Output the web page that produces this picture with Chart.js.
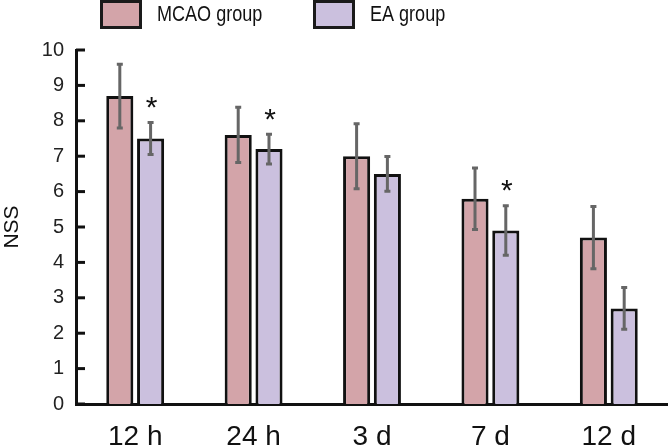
<!DOCTYPE html>
<html>
<head>
<meta charset="utf-8">
<script src="https://cdn.jsdelivr.net/npm/chart.js@4.4.1/dist/chart.umd.min.js"></script>
<style>
  html, body { margin: 0; padding: 0; background: #fff; }
  #wrap { width: 668px; height: 445px; position: relative; }
</style>
</head>
<body>
<div id="wrap"><canvas id="chart"></canvas></div>
<script>
// values
const categories = ["12 h", "24 h", "3 d", "7 d", "12 d"];
const mcaoMean = [8.7, 7.6, 7.0, 5.8, 4.7];
const mcaoSd = [0.9, 0.78, 0.92, 0.87, 0.88];
const eaMean = [7.5, 7.2, 6.5, 4.9, 2.7];
const eaSd = [0.45, 0.42, 0.49, 0.7, 0.59];
const eaSignificant = [true, true, false, true, false];
const yTicks = [0, 1, 2, 3, 4, 5, 6, 7, 8, 9, 10];

const FONT = "'Liberation Sans', Arial, sans-serif";

// error bars + asterisks
const errorBars = {
  id: "errorBars",
  afterDatasetsDraw(chart) {
    const { ctx, scales: { y } } = chart;
    const sds = [mcaoSd, eaSd];
    ctx.save();
    chart.data.datasets.forEach((ds, di) => {
      const meta = chart.getDatasetMeta(di);
      meta.data.forEach((bar, i) => {
        const top = y.getPixelForValue(ds.data[i] + sds[di][i]);
        const bot = y.getPixelForValue(ds.data[i] - sds[di][i]);
        ctx.strokeStyle = "#666";
        ctx.lineWidth = 3;
        ctx.beginPath();
        ctx.moveTo(bar.x, top);
        ctx.lineTo(bar.x, bot);
        ctx.moveTo(bar.x - 3, top);
        ctx.lineTo(bar.x + 3, top);
        ctx.moveTo(bar.x - 3, bot);
        ctx.lineTo(bar.x + 3, bot);
        ctx.stroke();
        if (di === 1 && eaSignificant[i]) {
          ctx.fillStyle = "#111";
          ctx.font = "30px " + FONT;
          ctx.textAlign = "center";
          ctx.textBaseline = "middle";
          ctx.fillText("*", bar.x + 1, top - 14);
        }
      });
    });
    ctx.restore();
  }
};

// ticks pointing into the plot, and the legend on top
const decorations = {
  id: "decorations",
  afterDraw(chart) {
    const { ctx, scales: { y } } = chart;
    ctx.save();
    ctx.strokeStyle = "#111";
    ctx.lineWidth = 3;
    yTicks.forEach(v => {
      const py = y.getPixelForValue(v);
      ctx.beginPath();
      ctx.moveTo(y.right, py);
      ctx.lineTo(y.right + 9, py);
      ctx.stroke();
    });

    let x = 100;
    chart.data.datasets.forEach(ds => {
      ctx.fillStyle = ds.backgroundColor;
      ctx.fillRect(x, 1, 42, 28);
      ctx.strokeStyle = "#1a1a1a";
      ctx.lineWidth = 3;
      ctx.strokeRect(x + 1.5, 1.5, 39, 26);
      ctx.save();
      ctx.translate(x + 57, 15);
      ctx.scale(0.82, 1);
      ctx.fillStyle = "#111";
      ctx.font = "22px " + FONT;
      ctx.textAlign = "left";
      ctx.textBaseline = "middle";
      ctx.fillText(ds.label, 0, 0);
      ctx.restore();
      x += 213;
    });
    ctx.restore();
  }
};

new Chart(document.getElementById("chart"), {
  type: "bar",
  data: {
    labels: categories,
    datasets: [
      {
        label: "MCAO group",
        data: mcaoMean,
        backgroundColor: "#d3a4a9",
        borderColor: "#111",
        borderWidth: 3
      },
      {
        label: "EA group",
        data: eaMean,
        backgroundColor: "#cbc0de",
        borderColor: "#111",
        borderWidth: 3
      }
    ]
  },
  options: {
    responsive: true,
    maintainAspectRatio: false,
    animation: false,
    layout: { padding: { top: 50, right: 0, left: 0, bottom: 0 } },
    plugins: {
      legend: { display: false },
      tooltip: { enabled: false }
    },
    datasets: {
      bar: { categoryPercentage: 0.52, barPercentage: 0.88 }
    },
    scales: {
      x: {
        grid: { display: false, drawTicks: false },
        border: { color: "#111", width: 3 },
        ticks: { color: "#111", font: { family: FONT, size: 28 }, padding: 16 },
        afterFit(scale) { scale.height = 41; }
      },
      y: {
        min: 0,
        max: 10,
        afterBuildTicks(scale) { scale.ticks = yTicks.map(v => ({ value: v })); },
        grid: { display: false, drawTicks: false },
        border: { color: "#111", width: 3 },
        ticks: { color: "#222", font: { family: FONT, size: 20 }, padding: 12 },
        title: {
          display: true,
          text: "NSS",
          color: "#111",
          font: { family: FONT, size: 21 },
          padding: 0
        },
        afterFit(scale) { scale.width = 76; }
      }
    }
  },
  plugins: [errorBars, decorations]
});
</script>
</body>
</html>
